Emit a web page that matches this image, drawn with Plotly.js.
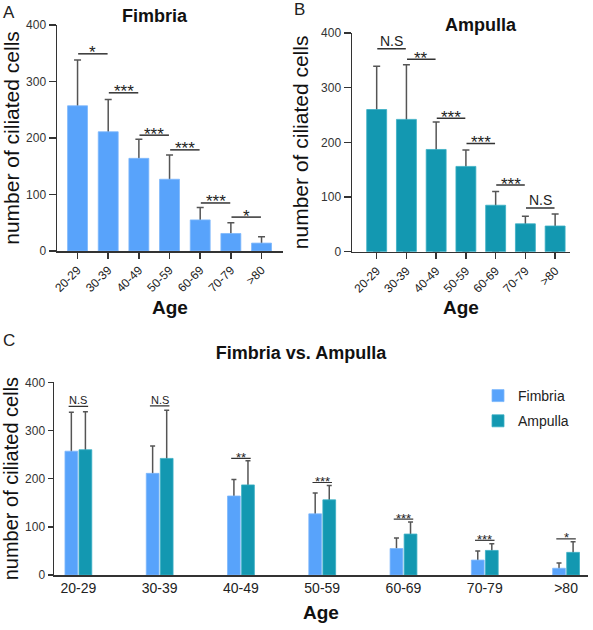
<!DOCTYPE html>
<html>
<head>
<meta charset="utf-8">
<script src="https://cdn.plot.ly/plotly-3.0.1.min.js"></script>
<style>html,body{margin:0;padding:0;background:#fff;}#chart{width:593px;height:630px;}</style>
</head>
<body>
<div id="chart"></div>
<script>
// ---- data ----
const categories = ['20-29', '30-39', '40-49', '50-59', '60-69', '70-79', '>80'];
const fimbriaMean = [257, 211, 164, 127, 55, 31, 14];
const fimbriaSD = [81, 57, 34, 43, 22, 19, 11];
const ampullaMean = [260, 242, 187, 156, 85, 51, 47];
const ampullaSD = [79, 100, 50, 30, 25, 14, 22];
const sigALabels = ['*', '***', '***', '***', '***', '*'];
const sigAHeights = [349, 280, 205, 179, 85, 60];
const sigBLabels = ['N.S', '**', '***', '***', '***', 'N.S'];
const sigBHeights = [371, 352, 244, 198, 122, 80];
const sigCLabels = ['N.S', 'N.S', '**', '***', '***', '***', '*'];
const sigCHeights = [350, 351, 242, 192, 116, 72, 75];
const yTicks = [0, 100, 200, 300, 400];

// ---- styles ----
const FONT = 'Arial, "Liberation Sans", sans-serif';
const FIM = '#58a3fb';
const AMP = '#1398b1';
const ERR = '#555555';
const AX = '#333333';
const W = 593, H = 630;
const px = v => v / W;
const py = v => 1 - v / H;

function errTrace(mean, sd, xa, ya, width, offset, capw) {
  const t = {
    type: 'bar', x: categories, y: mean, xaxis: xa, yaxis: ya,
    width: width, marker: {color: 'rgba(0,0,0,0)', line: {width: 0}},
    showlegend: false, hoverinfo: 'skip',
    error_y: {type: 'data', symmetric: false, array: sd, arrayminus: mean,
              color: ERR, thickness: 1.5, width: capw}
  };
  if (offset !== undefined) t.offset = offset;
  return t;
}
function barTrace(mean, name, color, edge, xa, ya, width, offset, legend) {
  const t = {
    type: 'bar', x: categories, y: mean, name: name, xaxis: xa, yaxis: ya,
    width: width, marker: {color: color, line: {color: edge, width: 0.8}},
    showlegend: !!legend, legendgroup: name, hoverinfo: 'skip'
  };
  if (offset !== undefined) t.offset = offset;
  return t;
}

const data = [
  errTrace(fimbriaMean, fimbriaSD, 'x', 'y', 0.65, undefined, 3.5),
  barTrace(fimbriaMean, 'Fimbria', FIM, '#7db8fb', 'x', 'y', 0.65),
  errTrace(ampullaMean, ampullaSD, 'x2', 'y2', 0.67, undefined, 3.5),
  barTrace(ampullaMean, 'Ampulla', AMP, '#3aafc4', 'x2', 'y2', 0.67),
  errTrace(fimbriaMean, fimbriaSD, 'x3', 'y3', 0.157, -0.165, 2.5),
  barTrace(fimbriaMean, 'Fimbria', FIM, '#7db8fb', 'x3', 'y3', 0.157, -0.165, true),
  errTrace(ampullaMean, ampullaSD, 'x3', 'y3', 0.157, 0.008, 2.5),
  barTrace(ampullaMean, 'Ampulla', AMP, '#3aafc4', 'x3', 'y3', 0.157, 0.008, true)
];

function xAxis(domain, range, anchor, angle, tfs, ticks, standoff) {
  return {
    domain: domain, range: range, anchor: anchor, type: 'category',
    showline: true, linecolor: AX, linewidth: 1.5, showgrid: false, zeroline: false,
    ticks: ticks, ticklen: 6, tickwidth: 1.5, tickcolor: AX, tickangle: angle,
    tickfont: {family: FONT, size: tfs, color: '#222'},
    title: {text: 'Age', font: {family: FONT, size: 19, color: '#111', weight: 'bold'}, standoff: standoff}
  };
}
function yAxis(domain, anchor, tfs, titleSize, standoff, ticklen) {
  return {
    domain: domain, range: [0, 400], anchor: anchor,
    tickvals: yTicks, ticktext: yTicks.map(String),
    showline: true, linecolor: AX, linewidth: 1.5, showgrid: false, zeroline: false,
    ticks: 'outside', ticklen: ticklen, tickwidth: 1.5, tickcolor: AX,
    tickfont: {family: FONT, size: tfs, color: '#333'},
    title: {text: 'number of ciliated cells', font: {family: FONT, size: titleSize, color: '#111'}, standoff: standoff}
  };
}

const shapes = [];
const annotations = [];
function addSig(labels, heights, xref, yref, x0f, x1f, lw, starSize, nsSize) {
  labels.forEach((lab, i) => {
    const a = x0f(i), b = x1f(i);
    shapes.push({type: 'line', xref: xref, yref: yref, x0: a, x1: b,
                 y0: heights[i], y1: heights[i], line: {color: AX, width: lw}});
    const isStar = lab.indexOf('*') >= 0;
    annotations.push({xref: xref, yref: yref, x: (a + b) / 2, y: heights[i], text: lab,
      showarrow: false, xanchor: 'center', yanchor: isStar ? 'middle' : 'bottom',
      yshift: isStar ? 1 : -2,
      font: {family: FONT, size: isStar ? starSize : nsSize, color: '#222'}});
  });
}
addSig(sigALabels, sigAHeights, 'x', 'y', i => i + 0.02, i => i + 0.98, 1.5, 17, 14);
addSig(sigBLabels, sigBHeights, 'x2', 'y2', i => i + 0.02, i => i + 0.98, 1.5, 17, 14);
addSig(sigCLabels, sigCHeights, 'x3', 'y3', i => i - 0.12, i => i + 0.12, 1.2, 13, 11);

// panel titles and letters
annotations.push({xref: 'paper', yref: 'paper', x: px(155), y: py(16), text: 'Fimbria', showarrow: false,
  xanchor: 'center', yanchor: 'middle', font: {family: FONT, size: 18, color: '#111', weight: 'bold'}});
annotations.push({xref: 'paper', yref: 'paper', x: px(481), y: py(25), text: 'Ampulla', showarrow: false,
  xanchor: 'center', yanchor: 'middle', font: {family: FONT, size: 18, color: '#111', weight: 'bold'}});
[['A', 9, 12], ['B', 299, 10], ['C', 9, 340]].forEach(([t, x, y]) => {
  annotations.push({xref: 'paper', yref: 'paper', x: px(x), y: py(y), text: t, showarrow: false,
    xanchor: 'center', yanchor: 'middle', font: {family: FONT, size: 17, color: '#222'}});
});

const layout = {
  width: W, height: H, autosize: false,
  margin: {l: 0, r: 0, t: 0, b: 0},
  paper_bgcolor: '#fff', plot_bgcolor: '#fff',
  barmode: 'overlay',
  font: {family: FONT},
  title: {text: 'Fimbria vs. Ampulla', x: px(301), y: py(353), xanchor: 'center', yanchor: 'middle',
          font: {family: FONT, size: 18, color: '#111', weight: 'bold'}},
  xaxis: xAxis([px(57), px(283)], [-0.67, 6.70], 'y', -45, 12, 'outside', 6),
  yaxis: yAxis([py(251), py(25)], 'x', 12, 21, 6, 7),
  xaxis2: xAxis([px(352), px(570)], [-0.83, 6.5], 'y2', -45, 12, 'outside', 6),
  yaxis2: yAxis([py(251.7), py(33)], 'x2', 12, 21, 6, 7),
  xaxis3: xAxis([px(54), px(588)], [-0.30, 6.27], 'y3', 0, 14, '', 10),
  yaxis3: yAxis([py(575), py(382.3)], 'x3', 12, 20, 4, 5),
  shapes: shapes,
  annotations: annotations,
  showlegend: true,
  legend: {x: px(478), y: py(380), xanchor: 'left', yanchor: 'top', bgcolor: 'rgba(0,0,0,0)',
           font: {family: FONT, size: 14, color: '#222'}, traceorder: 'grouped', tracegroupgap: 4}
};

Plotly.newPlot('chart', data, layout, {staticPlot: true, displayModeBar: false});
</script>
</body>
</html>
